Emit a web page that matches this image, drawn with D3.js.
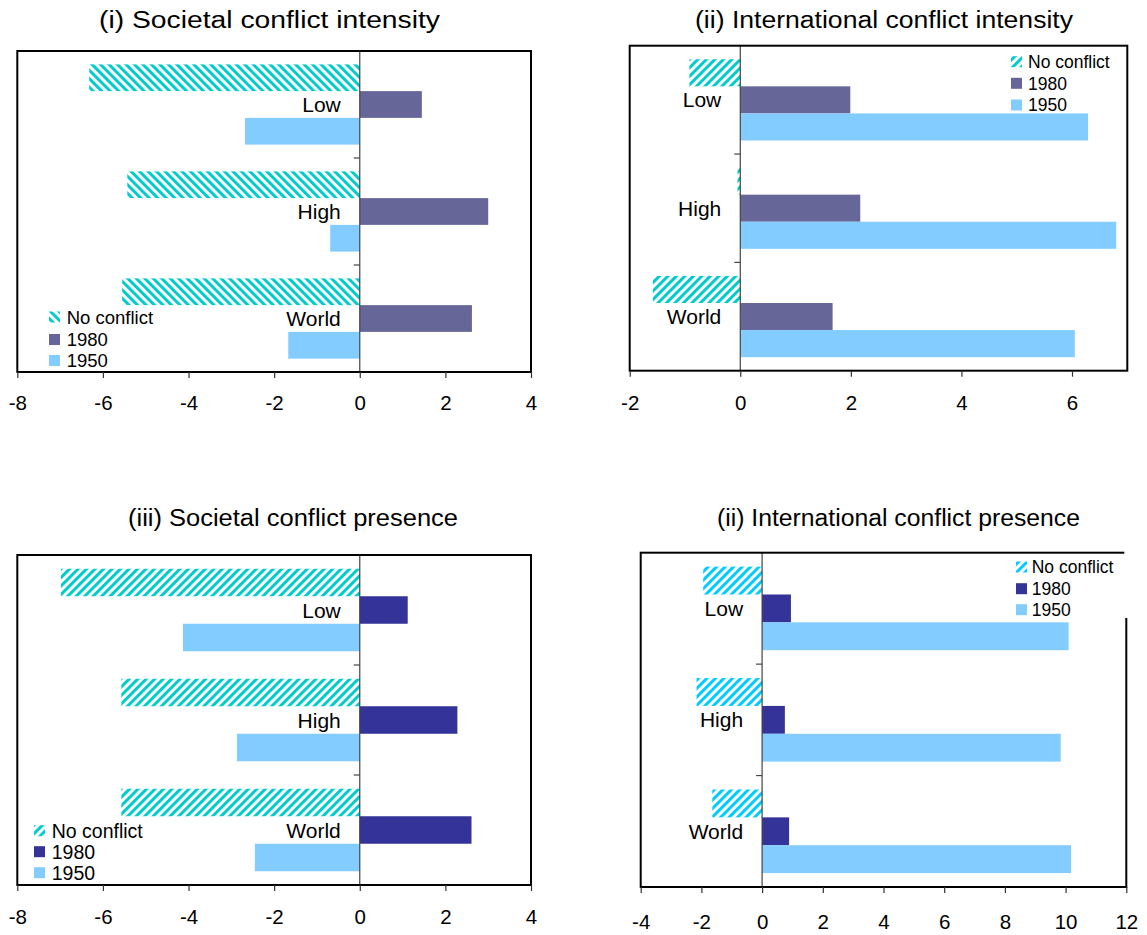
<!DOCTYPE html>
<html>
<head>
<meta charset="utf-8">
<script src="https://cdn.jsdelivr.net/npm/d3@7"></script>
<style>
  html, body { margin: 0; padding: 0; background: #fff; }
  svg { display: block; font-family: "Liberation Sans", Arial, sans-serif; }
</style>
</head>
<body>
<svg id="chart" width="1147" height="935"></svg>
<script>
// Categories and series shared by all four panels
const categories = ["Low", "High", "World"];
const seriesNames = ["No conflict", "1980", "1950"];

// (i) Societal conflict intensity
const socIntensityNoConflict = [-6.32, -5.43, -5.55];
const socIntensity1980 = [1.45, 3.0, 2.62];
const socIntensity1950 = [-2.68, -0.69, -1.67];

// (ii) International conflict intensity
const intIntensityNoConflict = [-0.92, -0.05, -1.58];
const intIntensity1980 = [1.99, 2.17, 1.67];
const intIntensity1950 = [6.29, 6.80, 6.05];

// (iii) Societal conflict presence
const socPresenceNoConflict = [-6.98, -5.57, -5.57];
const socPresence1980 = [1.12, 2.28, 2.61];
const socPresence1950 = [-4.13, -2.87, -2.45];

// (iv) International conflict presence
const intPresenceNoConflict = [-1.94, -2.16, -1.64];
const intPresence1980 = [0.95, 0.75, 0.89];
const intPresence1950 = [10.1, 9.84, 10.18];

// Axis tick labels
const ticksSocietal = [-8, -6, -4, -2, 0, 2, 4];
const ticksIntIntensity = [-2, 0, 2, 4, 6];
const ticksIntPresence = [-4, -2, 0, 2, 4, 6, 8, 10, 12];

const titles = [
  "(i) Societal conflict intensity",
  "(ii) International conflict intensity",
  "(iii) Societal conflict presence",
  "(ii) International conflict presence"
];

const svg = d3.select("#chart");
const defs = svg.append("defs");

// Diagonal hatch fills
function hatch(id, color, angle) {
  const p = defs.append("pattern")
    .attr("id", id)
    .attr("patternUnits", "userSpaceOnUse")
    .attr("width", 6).attr("height", 6)
    .attr("patternTransform", `rotate(${angle})`);
  p.append("rect").attr("width", 6).attr("height", 6).attr("fill", "#fff");
  p.append("rect").attr("x", 0).attr("y", 0).attr("width", 3).attr("height", 6).attr("fill", color);
}
hatch("hatchBack", "#00CCCC", -45);
hatch("hatchFwd", "#00CCCC", 45);
hatch("hatchFwdBlue", "#00CCFF", 45);

const panels = [
  {
    title: titles[0], values: [socIntensityNoConflict, socIntensity1980, socIntensity1950],
    domain: [-8, 4], ticks: ticksSocietal,
    box: { left: 17.3, right: 531, top: 51, bottom: 372 },
    colors: ["url(#hatchBack)", "#666699", "#82CCFF"],
    titleX: 99, titleW: 341, titleY: 28, tickPad: 17,
    legend: { sx: 49, tx: 66.7, rows: [317, 339.5, 360.5], font: 18.5 }
  },
  {
    title: titles[1], values: [intIntensityNoConflict, intIntensity1980, intIntensity1950],
    domain: [-2, 7], ticks: ticksIntIntensity,
    box: { left: 629.7, right: 1127.3, top: 45.7, bottom: 370.7 },
    colors: ["url(#hatchFwd)", "#666699", "#82CCFF"],
    titleX: 695, titleW: 378, titleY: 28, tickPad: 19,
    legend: { sx: 1011, tx: 1028, rows: [61.7, 83.3, 105], font: 17.5 }
  },
  {
    title: titles[2], values: [socPresenceNoConflict, socPresence1980, socPresence1950],
    domain: [-8, 4], ticks: ticksSocietal,
    box: { left: 17.3, right: 531, top: 555, bottom: 885 },
    colors: ["url(#hatchFwd)", "#333399", "#82CCFF"],
    titleX: 128, titleW: 330, titleY: 526, tickPad: 18,
    legend: { sx: 34, tx: 51.7, rows: [830.7, 851.7, 872.7], font: 19.5 }
  },
  {
    title: titles[3], values: [intPresenceNoConflict, intPresence1980, intPresence1950],
    domain: [-4, 12], ticks: ticksIntPresence,
    box: { left: 640.7, right: 1126.3, top: 552.7, bottom: 887 },
    colors: ["url(#hatchFwdBlue)", "#333399", "#82CCFF"],
    titleX: 717, titleW: 363, titleY: 526, tickPad: 21,
    legend: { sx: 1016, tx: 1031.7, rows: [567, 588.7, 609.7], font: 17.5, bg: [1002, 549, 128, 69] }
  }
];

panels.forEach(p => {
  const g = svg.append("g");
  const b = p.box;
  const x = d3.scaleLinear().domain(p.domain).range([b.left, b.right]);
  const yCat = d3.scaleBand().domain(categories).range([b.top, b.bottom]).padding(0);
  const ySer = d3.scaleBand().domain(seriesNames).range([0, yCat.bandwidth()])
    .paddingInner(0).paddingOuter(0.5);

  // Title
  g.append("text")
    .attr("x", p.titleX).attr("y", p.titleY)
    .attr("font-size", 23)
    .attr("textLength", p.titleW)
    .attr("lengthAdjust", "spacingAndGlyphs")
    .attr("fill", "#000")
    .text(p.title);

  // Bars
  seriesNames.forEach((s, si) => {
    g.append("g").selectAll("rect")
      .data(categories.map((c, ci) => ({ c, v: p.values[si][ci] })))
      .join("rect")
      .attr("x", d => x(Math.min(0, d.v)))
      .attr("width", d => Math.abs(x(d.v) - x(0)))
      .attr("y", d => yCat(d.c) + ySer(s))
      .attr("height", ySer.bandwidth())
      .attr("fill", p.colors[si]);
  });

  // Zero line with category separators
  g.append("line")
    .attr("x1", x(0)).attr("x2", x(0))
    .attr("y1", b.top).attr("y2", b.bottom)
    .attr("stroke", "#444").attr("stroke-width", 1.2);
  g.append("g").selectAll("line")
    .data(categories.slice(1))
    .join("line")
    .attr("x1", x(0) - 6).attr("x2", x(0))
    .attr("y1", d => yCat(d)).attr("y2", d => yCat(d))
    .attr("stroke", "#444").attr("stroke-width", 1.2);

  // Category labels
  g.append("g").selectAll("text")
    .data(categories)
    .join("text")
    .attr("x", x(0) - 19)
    .attr("y", d => yCat(d) + yCat.bandwidth() / 2)
    .attr("dy", "0.36em")
    .attr("text-anchor", "end")
    .attr("font-size", 21)
    .attr("fill", "#000")
    .text(d => d);

  // Legend (optionally on a white box)
  if (p.legend.bg) {
    const [lx, ly, lw, lh] = p.legend.bg;
    g.append("rect").attr("x", lx).attr("y", ly).attr("width", lw).attr("height", lh).attr("fill", "#fff");
  }
  const lg = g.append("g");
  seriesNames.forEach((s, si) => {
    const cy = p.legend.rows[si];
    lg.append("rect")
      .attr("x", p.legend.sx).attr("y", cy - 5.5)
      .attr("width", 11).attr("height", 11)
      .attr("fill", p.colors[si]);
    lg.append("text")
      .attr("x", p.legend.tx).attr("y", cy)
      .attr("dy", "0.36em")
      .attr("font-size", p.legend.font)
      .attr("fill", "#000")
      .text(s);
  });

  // Frame
  g.append("rect")
    .attr("x", b.left).attr("y", b.top)
    .attr("width", b.right - b.left).attr("height", b.bottom - b.top)
    .attr("fill", "none").attr("stroke", "#000").attr("stroke-width", 2);

  if (p.legend.bg) {
    const [lx, ly, lw] = p.legend.bg;
    g.append("rect").attr("x", lx).attr("y", ly - 2).attr("width", lw).attr("height", 4).attr("fill", "#fff");
    g.append("rect").attr("x", b.right - 2).attr("y", ly).attr("width", 6).attr("height", p.legend.bg[3]).attr("fill", "#fff");
  }

  // Bottom value axis
  const axis = d3.axisBottom(x)
    .tickValues(p.ticks)
    .tickFormat(d => String(d))
    .tickSize(6)
    .tickPadding(p.tickPad);
  const ax = g.append("g")
    .attr("transform", `translate(0,${b.bottom})`)
    .call(axis);
  ax.select(".domain").remove();
  ax.selectAll(".tick line").attr("stroke", "#333").attr("stroke-width", 1.2);
  ax.selectAll(".tick text")
    .attr("font-size", 20.5)
    .attr("fill", "#000")
    .attr("font-family", "\"Liberation Sans\", Arial, sans-serif");
});
</script>
</body>
</html>
